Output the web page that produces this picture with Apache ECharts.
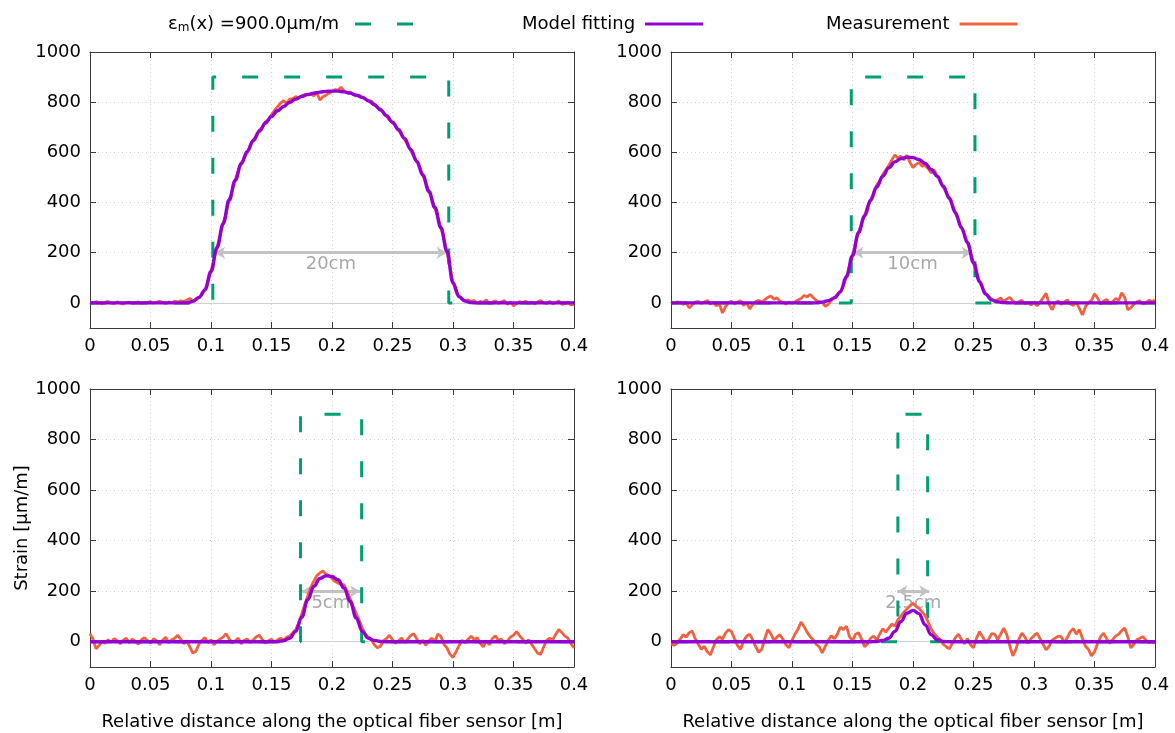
<!DOCTYPE html>
<html><head><meta charset="utf-8">
<script src="https://cdn.jsdelivr.net/npm/echarts@6/dist/echarts.min.js"></script>
<style>html,body{margin:0;padding:0;background:#fff}#chart{width:1175px;height:733px}</style>
</head><body><div id="chart"></div>
<script>
// ---------- data ----------
const seriesNames = ['εm(x) =900.0µm/m', 'Model fitting', 'Measurement'];
const xTitle = 'Relative distance along the optical fiber sensor [m]';
const yTitle = 'Strain [µm/m]';
const yTicks = [0, 200, 400, 600, 800, 1000];
const widthLabels = ['20cm', '10cm', '5cm', '2.5cm'];
const rectStart = [0.1015, 0.149, 0.174, 0.1875];
const rectEnd = [0.2965, 0.2512, 0.2245, 0.2121];
const rectLevel = 900;
const arrowStart = [0.1033, 0.1507, 0.175, 0.187];
const arrowEnd = [0.2948, 0.2485, 0.2231, 0.2135];
const arrowLevel = 200;
const measStep = 0.0025;   // x spacing of measurement samples [m]
const modelStep = 0.005;   // x spacing of model samples [m]

const meas20 = [3,-2,5,1,-4,2,6,-1,-3,4,0,-5,2,3,-2,1,4,-3,0,2,5,-1,3,6,2,-2,4,1,7,3,8,5,12,18,9,
  12,20,32,52,85,128,175,222,268,318,358,410,445,490,528,558,578,600,
  630,650,668,690,700,722,730,750,768,782,796,806,795,812,814,822,818,825,830,828,832,826,838,808,822,828,835,842,850,848,860,845,838,840,832,826,828,818,815,804,805,792,780,772,760,745,728,718,706,690,668,652,630,608,585,
  565,540,510,480,445,415,380,340,298,255,205,140,82,45,26,15,8,12,
  5,10,-3,6,2,12,-4,3,8,-2,4,9,-6,2,-12,-3,5,1,7,-2,3,-5,4,9,0,-3,6,-4,2,8,-6,-2,3,-8,-5];
const meas10 = [5,-3,4,2,-6,1,-20,-8,3,6,-2,4,10,-5,2,-12,-3,-40,-15,2,6,-4,3,8,-10,2,-24,-6,5,10,4,12,22,28,15,20,8,2,-5,3,-2,5,12,18,30,24,34,22,10,4,2,-14,-6,10,22,30,
  45,70,104,145,190,240,282,318,350,385,410,440,470,485,512,530,548,570,590,578,584,570,588,560,540,552,560,545,548,536,518,530,505,490,462,440,415,392,358,330,300,275,240,205,160,120,85,58,38,24,15,8,
  12,20,6,15,22,8,-3,5,10,-4,2,-8,4,-12,3,20,38,-5,-28,2,8,-6,4,12,-4,-10,3,-22,-48,-15,2,10,36,20,-6,8,14,-3,5,18,10,40,22,-28,-20,-5,4,8,-4,2,10,6,12];
const meas5 = [32,10,-28,-15,2,-6,8,-2,12,4,
  -8,6,14,-4,10,2,-10,8,16,5,
  -6,12,4,-12,6,18,-4,8,14,26,
  10,-8,4,-20,-45,-38,-10,6,16,-4,
  8,-12,2,10,18,32,12,-6,4,14,
  -8,6,10,-4,8,20,26,8,-6,4,
  10,-2,8,14,6,18,22,35,48,75,
  110,148,182,215,240,262,272,280,268,262,
  250,238,232,228,225,200,170,140,112,85,
  55,30,18,8,-12,-24,-18,4,12,26,
  8,-6,4,14,-2,10,24,32,12,-8,
  6,-14,4,14,2,30,22,-10,-24,-50,
  -62,-40,-15,6,-4,10,22,8,16,-6,
  -20,4,-12,12,24,6,10,-8,4,18,
  26,40,24,10,-6,8,-10,-28,-45,-50,
  -20,6,14,8,30,48,36,22,14,-8,
  -24];
const meas25 = [-8,-14,-6,10,28,18,36,42,12,-10,
  -30,-18,-40,-52,-22,8,20,10,34,48,
  40,12,-16,-30,4,22,30,8,-20,-42,
  -30,12,48,32,6,18,28,10,-12,-24,
  6,30,50,78,60,38,20,8,-10,-20,
  -44,-18,6,24,12,30,58,48,62,20,
  4,30,36,10,-20,-8,14,22,6,30,
  52,38,55,70,62,88,100,118,130,142,
  152,140,132,118,104,78,50,32,20,8,
  -10,-20,-28,-6,16,30,10,-8,12,-12,
  -24,14,40,20,-2,10,32,30,8,30,
  54,28,-16,-56,-30,10,34,18,-6,12,
  24,34,12,-10,-32,-18,6,14,22,20,
  -4,16,40,52,30,48,14,-18,-30,-56,
  -40,-8,20,34,12,-6,8,22,30,44,
  54,20,-24,-10,8,14,20,6,-4,2,
  -6];

const model20 = [0,0,0,0,0,0,0,0,0,0,0,0,0,0,0,0,0,
  6,22,52,125,220,315,410,488,555,604,647,684,717,743,766,783,799,812,823,831,836,840,843,844,844,841,836,828,819,806,790,770,746,720,690,655,612,565,510,445,380,300,205,80,25,7,1,
  0,0,0,0,0,0,0,0,0,0,0,0,0,0,0,0,0];
const model10 = [0,0,0,0,0,0,0,0,0,0,0,0,0,0,0,0,0,0,0,0,0,0,0,0,0,
  3,9,20,44,105,188,280,347,409,462,505,538,562,575,581,579,571,556,532,505,465,418,360,300,240,160,85,35,12,4,1,
  0,0,0,0,0,0,0,0,0,0,0,0,0,0,0,0,0,0,0,0,0,0,0,0,0];
const model5 = [0,0,0,0,0,0,0,0,0,0,0,0,0,0,0,0,0,0,0,0,0,0,0,0,0,0,0,0,0,0,0,0,
  4,14,41,97,166,219,250,261,258,245,212,159,94,41,14,5,1,
  0,0,0,0,0,0,0,0,0,0,0,0,0,0,0,0,0,0,0,0,0,0,0,0,0,0,0,0,0,0,0,0];
const model25 = [0,0,0,0,0,0,0,0,0,0,0,0,0,0,0,0,0,0,0,0,0,0,0,0,0,0,0,0,0,0,0,0,0,0,
  1,5,14,41,80,113,124,111,67,28,8,1,
  0,0,0,0,0,0,0,0,0,0,0,0,0,0,0,0,0,0,0,0,0,0,0,0,0,0,0,0,0,0,0,0,0,0,0];

const measAll = [meas20, meas10, meas5, meas25];
const modelAll = [model20, model10, model5, model25];

// ---------- layout & style ----------
const FONT = 'DejaVu Sans';
const GREEN = '#009e73', PURPLE = '#9400d3', ORANGE = '#ef6240';
const FRAME = '#3a3a3a';
const grids = [
  {left: 90, top: 52, width: 484, height: 276},
  {left: 671, top: 52, width: 484, height: 276},
  {left: 90, top: 389, width: 484, height: 278},
  {left: 671, top: 389, width: 484, height: 278}
];

const toXY = (arr, step) => arr.map((v, i) => [+(i * step).toFixed(4), v]);

const xAxes = [], yAxes = [], series = [];
for (let p = 0; p < 4; p++) {
  const xb = {gridIndex: p, type: 'value', min: 0, max: 0.4, interval: 0.05};
  xAxes.push(Object.assign({}, xb, {
    position: 'bottom',
    axisLine: {show: true, onZero: false, lineStyle: {color: FRAME, width: 1}},
    axisTick: {show: true, inside: true, length: 6, lineStyle: {color: FRAME}},
    axisLabel: {show: true, margin: 9, color: '#000', fontSize: 18, fontFamily: FONT},
    splitLine: {show: true, lineStyle: {color: '#d4d4d4', width: 1, type: [1, 3]}},
    name: p >= 2 ? xTitle : '', nameLocation: 'middle', nameGap: 46,
    nameTextStyle: {color: '#000', fontSize: 18, fontFamily: FONT}
  }));
  xAxes.push(Object.assign({}, xb, {
    position: 'top',
    axisLine: {show: true, onZero: false, lineStyle: {color: FRAME, width: 1}},
    axisTick: {show: true, inside: true, length: 6, lineStyle: {color: FRAME}},
    axisLabel: {show: false}, splitLine: {show: false}
  }));
  const yb = {gridIndex: p, type: 'value', min: -100, max: 1000, splitNumber: 5};
  yAxes.push(Object.assign({}, yb, {
    position: 'left',
    axisLine: {show: true, onZero: false, lineStyle: {color: FRAME, width: 1}},
    axisTick: {show: true, inside: true, length: 6, lineStyle: {color: FRAME}, customValues: yTicks},
    axisLabel: {show: true, margin: 9, color: '#000', fontSize: 18, fontFamily: FONT,
                customValues: yTicks, formatter: v => String(v)},
    splitLine: {show: true, lineStyle: {color: '#d4d4d4', width: 1, type: [1, 3]}},
    name: p === 2 ? yTitle : '', nameLocation: 'middle', nameGap: 58,
    nameTextStyle: {color: '#000', fontSize: 18, fontFamily: FONT}
  }));
  yAxes.push(Object.assign({}, yb, {
    position: 'right',
    axisLine: {show: true, onZero: false, lineStyle: {color: FRAME, width: 1}},
    axisTick: {show: true, inside: true, length: 6, lineStyle: {color: FRAME}, customValues: yTicks},
    axisLabel: {show: false}, splitLine: {show: false}
  }));

  const s = rectStart[p], e = rectEnd[p];
  series.push({
    name: seriesNames[0], type: 'line', xAxisIndex: 2 * p, yAxisIndex: 2 * p,
    data: [[0, 0], [s, 0], [s, rectLevel], [e, rectLevel], [e, 0], [0.4, 0]],
    symbol: 'none', showSymbol: false, z: 2, silent: true,
    lineStyle: {color: GREEN, width: 3, type: [16, 26], cap: 'butt'},
    itemStyle: {color: GREEN},
    markLine: {
      silent: true, z: 2, animation: false, symbol: ['none', 'none'],
      emphasis: {disabled: true},
      data: [
        {yAxis: 0, lineStyle: {color: '#cfcfcf', width: 1, type: 'solid'}, label: {show: false}},
        [
          {coord: [arrowStart[p], arrowLevel], symbol: 'arrow', symbolSize: [9, 10],
           lineStyle: {color: '#c2c2c2', width: 3, type: 'solid'},
           label: {show: true, formatter: widthLabels[p], position: 'insideMiddleBottom', distance: 3,
                   color: '#a8a8a8', fontSize: 18, fontFamily: FONT}},
          {coord: [arrowEnd[p], arrowLevel], symbol: 'arrow', symbolSize: [9, 10]}
        ]
      ]
    }
  });
  series.push({
    name: seriesNames[2], type: 'line', xAxisIndex: 2 * p, yAxisIndex: 2 * p,
    data: toXY(measAll[p], measStep), symbol: 'none', showSymbol: false, z: 3, silent: true,
    lineStyle: {color: ORANGE, width: 2.8}, itemStyle: {color: ORANGE}
  });
  series.push({
    name: seriesNames[1], type: 'line', xAxisIndex: 2 * p, yAxisIndex: 2 * p,
    data: toXY(modelAll[p], modelStep), symbol: 'none', showSymbol: false, z: 4, silent: true,
    smooth: 0.4, smoothMonotone: 'x',
    lineStyle: {color: PURPLE, width: 3.4}, itemStyle: {color: PURPLE}
  });
}

const makeLegendText = (padRight) => ({color: '#000', fontSize: 18, fontFamily: FONT, padding: [0, padRight, 0, 0],
  rich: {
    t: {fontSize: 18, fontFamily: FONT, color: '#000'},
    s: {fontSize: 12, fontFamily: FONT, color: '#000', verticalAlign: 'bottom', padding: [8, 0, 0, 0]}
  }});
const legendBase = {top: 15, padding: 0, align: 'right', itemWidth: 58, itemHeight: 14, itemGap: 0,
  selectedMode: false,
  itemStyle: {opacity: 0, borderWidth: 0},
  lineStyle: {width: 3}};
const legends = [
  Object.assign({}, legendBase, {left: 168, data: [seriesNames[0]], textStyle: makeLegendText(11),
    formatter: () => '{t|ε}{s|m}{t|(x) =900.0µm/m}'}),
  Object.assign({}, legendBase, {left: 522, data: [seriesNames[1]], textStyle: makeLegendText(5)}),
  Object.assign({}, legendBase, {left: 826, data: [seriesNames[2]], textStyle: makeLegendText(5)})
];

const chart = echarts.init(document.getElementById('chart'), null, {renderer: 'canvas'});
chart.setOption({
  animation: false,
  backgroundColor: '#fff',
  textStyle: {fontFamily: FONT},
  grid: grids.map(g => Object.assign({outerBoundsMode: 'none', containLabel: false}, g)),
  legend: legends,
  xAxis: xAxes,
  yAxis: yAxes,
  series: series
});
</script></body></html>
